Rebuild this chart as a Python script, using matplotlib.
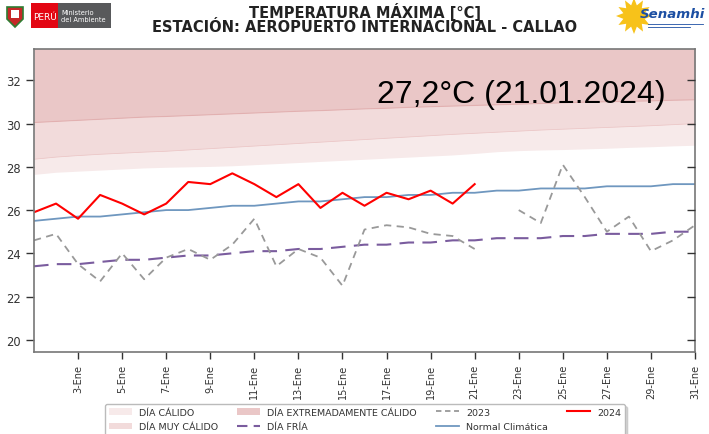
import numpy as np
import matplotlib
matplotlib.use("Agg")
import matplotlib.pyplot as plt
from matplotlib.patches import Rectangle, Polygon, Patch
from matplotlib.lines import Line2D

dias = list(range(1, 32))
etiquetas_x = ["%d-Ene" % d for d in range(3, 32, 2)]

# umbrales (limite inferior de cada banda)
umbral_calido = [27.65, 27.75, 27.8, 27.85, 27.9, 27.95, 27.98, 28.0, 28.02, 28.05, 28.1,
                 28.15, 28.2, 28.25, 28.3, 28.35, 28.4, 28.45, 28.5, 28.55, 28.62, 28.7,
                 28.75, 28.78, 28.8, 28.83, 28.86, 28.9, 28.93, 28.97, 29.0]
umbral_muy = [28.35, 28.45, 28.52, 28.58, 28.63, 28.68, 28.72, 28.78, 28.84, 28.9, 28.96,
              29.02, 29.08, 29.14, 29.2, 29.26, 29.32, 29.38, 29.44, 29.5, 29.55, 29.6,
              29.65, 29.7, 29.74, 29.78, 29.82, 29.86, 29.9, 29.95, 30.0]
umbral_extremo = [30.05, 30.1, 30.15, 30.2, 30.25, 30.3, 30.33, 30.37, 30.41, 30.45, 30.49,
                  30.53, 30.57, 30.6, 30.64, 30.68, 30.71, 30.75, 30.78, 30.81, 30.84, 30.87,
                  30.9, 30.93, 30.96, 30.99, 31.01, 31.03, 31.05, 31.08, 31.1]

normal = [25.5, 25.6, 25.7, 25.7, 25.8, 25.9, 26.0, 26.0, 26.1, 26.2, 26.2, 26.3, 26.4, 26.4,
          26.5, 26.6, 26.6, 26.7, 26.7, 26.8, 26.8, 26.9, 26.9, 27.0, 27.0, 27.0, 27.1, 27.1,
          27.1, 27.2, 27.2]
dia_fria = [23.4, 23.5, 23.5, 23.6, 23.7, 23.7, 23.8, 23.9, 23.9, 24.0, 24.1, 24.1, 24.2, 24.2,
            24.3, 24.4, 24.4, 24.5, 24.5, 24.6, 24.6, 24.7, 24.7, 24.7, 24.8, 24.8, 24.9, 24.9,
            24.9, 25.0, 25.0]
t2023 = [24.6, 24.9, 23.5, 22.7, 24.0, 22.8, 23.8, 24.2, 23.7, 24.4, 25.6, 23.4, 24.2, 23.8,
         22.5, 25.1, 25.3, 25.2, 24.9, 24.8, 24.2, np.nan, 26.0, 25.4, 28.1, 26.6, 25.0, 25.7,
         24.1, 24.6, 25.3]
t2024 = [25.9, 26.3, 25.6, 26.7, 26.3, 25.8, 26.3, 27.3, 27.2, 27.7, 27.2, 26.6, 27.2, 26.1,
         26.8, 26.2, 26.8, 26.5, 26.9, 26.3, 27.2]
dias_2024 = dias[:len(t2024)]

col_ext = "#eac7c7"
col_muy = "#f2dbdb"
col_cal = "#f7eaea"

fig = plt.figure(figsize=(7.09, 4.35), dpi=100)
ax = fig.add_axes([34/709, 1-352.7/435, (695-34)/709, (352.7-50)/435])

ax.fill_between(dias, umbral_extremo, 40, color=col_ext, lw=0)
ax.fill_between(dias, umbral_muy, umbral_extremo, color=col_muy, lw=0)
ax.fill_between(dias, umbral_calido, umbral_muy, color=col_cal, lw=0)
ax.plot(dias, umbral_extremo, color="#e2b0b0", lw=0.8)
ax.plot(dias, umbral_muy, color="#ecc8c8", lw=0.6)

ax.plot(dias, normal, color="#6f97bf", lw=1.3)
ax.plot(dias, dia_fria, color="#7a5c9e", lw=1.5, dashes=(7, 4))
ax.plot(dias, t2023, color="#999999", lw=1.3, dashes=(4, 3))
ax.plot(dias_2024, t2024, color="#ff0000", lw=1.5)

ax.text(16.55, 31.37, "27,2°C (21.01.2024)", fontsize=23, family="Liberation Sans",
        ha="left", va="center", color="black")

ax.set_xlim(1, 31)
ax.set_ylim(19.45, 33.45)
ax.set_xticks(list(range(3, 32, 2)))
ax.set_xticklabels(etiquetas_x, rotation=90, fontsize=7, color="#333333")
ax.set_yticks([20, 22, 24, 26, 28, 30, 32])
ax.tick_params(axis="y", labelsize=8.3, colors="#333333", length=6, width=1)
ax.tick_params(axis="x", length=5, width=1, colors="#333333")
for s in ax.spines.values():
    s.set_color("#777777")
    s.set_linewidth(1.2)

ax2 = ax.twinx()
ax2.set_ylim(ax.get_ylim())
ax2.set_yticks([20, 22, 24, 26, 28, 30, 32])
ax2.tick_params(axis="y", direction="in", length=6, width=1, colors="#333333", labelright=False)
for s in ax2.spines.values():
    s.set_visible(False)

# titulo
fig.text(365/709, 1-12/435, "TEMPERATURA MÁXIMA [°C]", ha="center", va="center",
         fontsize=10.5, fontweight="bold", color="#222222")
fig.text(365/709, 1-28/435, "ESTACIÓN: AEROPUERTO INTERNACIONAL - CALLAO", ha="center",
         va="center", fontsize=10.5, fontweight="bold", color="#222222")

# leyenda
handles = [
    Patch(facecolor=col_cal, edgecolor="none"),
    Patch(facecolor=col_muy, edgecolor="none"),
    Patch(facecolor=col_ext, edgecolor="none"),
    Line2D([], [], color="#7a5c9e", lw=1.5, dashes=(5, 3)),
    Line2D([], [], color="#999999", lw=1.3, dashes=(3, 2)),
    Line2D([], [], color="#6f97bf", lw=1.3),
    Line2D([], [], color="#ff0000", lw=1.5),
]
labels = ["DÍA CÁLIDO", "DÍA MUY CÁLIDO", "DÍA EXTREMADAMENTE CÁLIDO", "DÍA FRÍA",
          "2023", "Normal Climática", "2024"]
leg = fig.legend(handles, labels, ncol=4, loc="upper center",
                 bbox_to_anchor=(365/709, 1-405/435), fontsize=6.8, frameon=True,
                 handlelength=2.4, columnspacing=2.0, borderaxespad=0, labelspacing=0.6,
                 fancybox=True, shadow={"color": "#bbbbbb", "alpha": 0.6})
leg.get_frame().set_edgecolor("#bbbbbb")
for t in leg.get_texts():
    t.set_color("#333333")

# logos aproximados
ov = fig.add_axes([0, 0, 1, 1], zorder=5)
ov.set_xlim(0, 709)
ov.set_ylim(435, 0)
ov.axis("off")
ov.add_patch(Polygon([[7, 8], [23, 8], [23, 20], [15, 28], [7, 20]], closed=True,
                     facecolor="#c62828", edgecolor="#2e7d32", lw=1.2))
ov.add_patch(Rectangle((11, 11), 8, 8, facecolor="white", edgecolor="none"))
ov.add_patch(Rectangle((31, 4), 27, 25, facecolor="#e30613", edgecolor="none"))
ov.add_patch(Rectangle((58, 4), 53, 25, facecolor="#58595b", edgecolor="none"))
ov.text(44.5, 17, "PERÚ", color="white", fontsize=6.5, ha="center", va="center")
ov.text(61, 16.5, "Ministerio\ndel Ambiente", color="white", fontsize=4.8, ha="left",
        va="center", linespacing=1.1)
ang = np.linspace(0, 2*np.pi, 25)[:-1]
rad = np.where(np.arange(24) % 2 == 0, 18, 11)
ov.add_patch(Polygon(np.column_stack([634 + rad*np.cos(ang), 17 + rad*np.sin(ang)]),
                     closed=True, facecolor="#f7c21a", edgecolor="none"))
ov.text(640, 15, "Senamhi", color="#1c4fa3", fontsize=9.6, fontweight="bold",
        style="italic", ha="left", va="center")
ov.plot([648, 703], [25, 25], color="#1c4fa3", lw=0.6)
ov.plot([648, 690], [28, 28], color="#1c4fa3", lw=0.6)

fig.savefig("out.png", dpi=100)
